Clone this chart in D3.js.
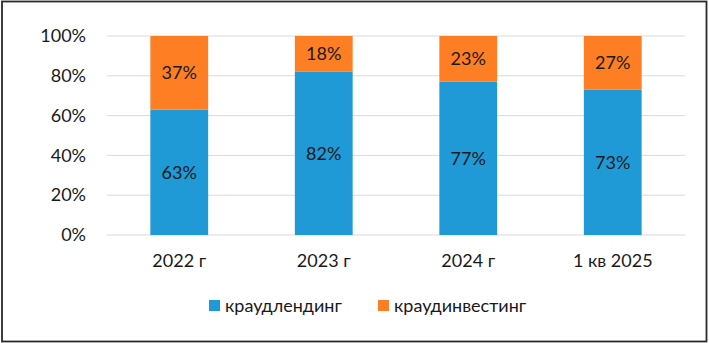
<!DOCTYPE html>
<html><head><meta charset="utf-8">
<script src="https://cdn.jsdelivr.net/npm/d3@7"></script>
<style>html,body{margin:0;padding:0;background:#fff;}svg{display:block;font-family:Lato,"Open Sans",sans-serif;}</style>
</head><body>
<svg id="c" width="709" height="343"></svg>
<script>
const categories = ["2022 г", "2023 г", "2024 г", "1 кв 2025"];
const seriesNames = ["краудлендинг", "краудинвестинг"];
const lending = [63, 82, 77, 73];
const investing = [37, 18, 23, 27];
const yTicks = [0, 20, 40, 60, 80, 100];
const colors = ["#1f9ad6", "#fd7e23"];

const svg = d3.select("#c");
svg.append("rect").attr("x",2).attr("y",1.5).attr("width",704.5).attr("height",340)
  .attr("fill","#fff").attr("stroke","#2a2a2a").attr("stroke-width",1.8);

const x = d3.scaleBand().domain(categories).range([107, 685]).paddingInner(0.6).paddingOuter(0.3);
const y = d3.scaleLinear().domain([0, 100]).range([235, 36]);

// grid
svg.append("g").selectAll("line").data(yTicks).join("line")
  .attr("x1",107).attr("x2",685).attr("y1",d=>y(d)).attr("y2",d=>y(d))
  .attr("stroke","#d9d9d9").attr("stroke-width",1);

// y axis labels
const yAxis = d3.axisLeft(y).tickValues(yTicks).tickFormat(d=>d+"%").tickSize(0).tickPadding(0);
const ya = svg.append("g").attr("transform","translate(86,0)").call(yAxis);
ya.select(".domain").remove();
ya.selectAll("text").attr("font-size",18).attr("fill","#1a1a1a").attr("font-family","Lato, sans-serif");

// x axis labels
const xAxis = d3.axisBottom(x).tickSize(0).tickPadding(0);
const xa = svg.append("g").attr("transform","translate(0,254)").call(xAxis);
xa.select(".domain").remove();
xa.selectAll("text").attr("font-size",18).attr("fill","#1a1a1a").attr("font-family","Lato, sans-serif");

// stacked data
const rows = categories.map((c,i)=>({cat:c, lending:lending[i], investing:investing[i]}));
const stack = d3.stack().keys(["lending","investing"])(rows);

stack.forEach((layer, li)=>{
  const g = svg.append("g");
  g.selectAll("rect").data(layer).join("rect")
    .attr("x", d=>x(d.data.cat)).attr("width", x.bandwidth())
    .attr("y", d=>y(d[1])).attr("height", d=>y(d[0])-y(d[1]))
    .attr("fill", colors[li]);
  g.selectAll("text").data(layer).join("text")
    .attr("x", d=>x(d.data.cat)+x.bandwidth()/2)
    .attr("y", d=>(y(d[0])+y(d[1]))/2)
    .attr("dy","0.36em").attr("text-anchor","middle")
    .attr("font-size",18).attr("fill","#1a1a1a")
    .text(d=>(d[1]-d[0])+"%");
});

// legend
const legendX = [209, 378];
const lg = svg.append("g");
seriesNames.forEach((n,i)=>{
  lg.append("rect").attr("x",legendX[i]).attr("y",300).attr("width",11).attr("height",11).attr("fill",colors[i]);
  lg.append("text").attr("x",legendX[i]+16).attr("y",305.5).attr("dy","0.36em")
    .attr("font-size",18).attr("fill","#1a1a1a").text(n);
});
</script>
</body></html>
